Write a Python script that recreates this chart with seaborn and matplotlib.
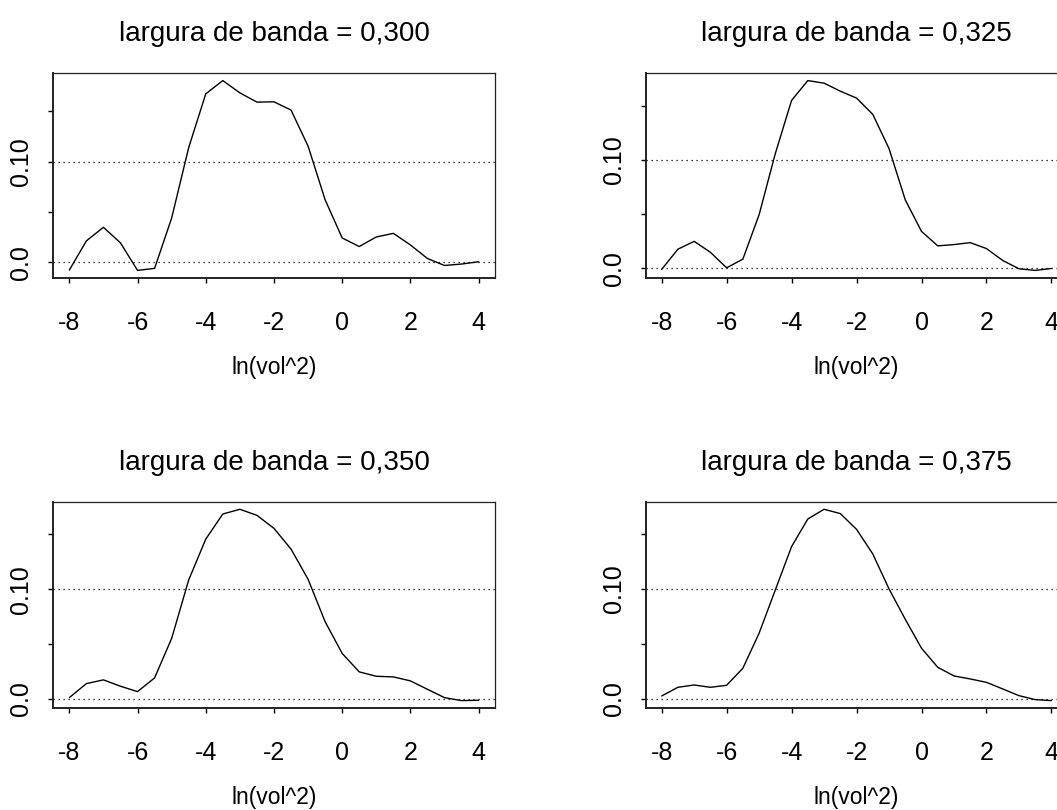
import numpy as np
import pandas as pd
import matplotlib
matplotlib.use("Agg")
import matplotlib.pyplot as plt
import seaborn as sns

# grid of ln(vol^2) values where the density was evaluated
x_grid = [-8.0, -7.5, -7.0, -6.5, -6.0, -5.5, -5.0, -4.5, -4.0, -3.5, -3.0, -2.5,
          -2.0, -1.5, -1.0, -0.5, 0.0, 0.5, 1.0, 1.5, 2.0, 2.5, 3.0, 3.5, 4.0]

# density estimates, one list per bandwidth
dens_300 = [-0.0076, 0.0214, 0.0349, 0.0194, -0.0079, -0.0059, 0.0441, 0.1141,
            0.1674, 0.1806, 0.1684, 0.1592, 0.1595, 0.1513, 0.1155, 0.0622,
            0.0243, 0.0158, 0.0253, 0.0289, 0.0174, 0.0039, -0.0030, -0.0016, 0.0007]
dens_325 = [-0.0012, 0.0175, 0.0248, 0.0147, 0.0003, 0.0083, 0.0494, 0.1061,
            0.1552, 0.1736, 0.1712, 0.1638, 0.1574, 0.1423, 0.1107, 0.0632,
            0.0340, 0.0206, 0.0218, 0.0236, 0.0181, 0.0071, -0.0006, -0.0021, -0.0003]
dens_350 = [0.0012, 0.0140, 0.0174, 0.0116, 0.0067, 0.0192, 0.0552, 0.1085,
            0.1457, 0.1686, 0.1729, 0.1674, 0.1555, 0.1366, 0.1091, 0.0704,
            0.0415, 0.0247, 0.0207, 0.0201, 0.0165, 0.0088, 0.0012, -0.0015, -0.0012]
dens_375 = [0.0024, 0.0103, 0.0124, 0.0103, 0.0121, 0.0276, 0.0594, 0.0988,
            0.1382, 0.1633, 0.1721, 0.1682, 0.1539, 0.1315, 0.0997, 0.0721,
            0.0458, 0.0285, 0.0206, 0.0179, 0.0148, 0.0088, 0.0027, -0.0009, -0.0018]

titles = ["largura de banda = 0,300", "largura de banda = 0,325",
          "largura de banda = 0,350", "largura de banda = 0,375"]
x_ticks = [-8, -6, -4, -2, 0, 2, 4]
y_ticks = [0.0, 0.05, 0.10, 0.15]
y_tick_labels = ["0.0", "", "0.10", ""]
ref_lines = [0.0, 0.10]
x_label = "ln(vol^2)"

sns.set_style("white")
plt.rcParams['font.family'] = ['Liberation Sans', 'DejaVu Sans']
plt.rcParams['text.color'] = 'black'
plt.rcParams['axes.labelcolor'] = 'black'
plt.rcParams['xtick.color'] = 'black'
plt.rcParams['ytick.color'] = 'black'

fig = plt.figure(figsize=(10.57, 8.10), dpi=100)

# axes boxes in figure fractions (right column runs past the edge, as in the original)
positions = [
    [0.0501, 0.6568, 0.4182, 0.2531],
    [0.6112, 0.6568, 0.3983, 0.2531],
    [0.0501, 0.1256, 0.4182, 0.2551],
    [0.6112, 0.1256, 0.3983, 0.2551],
]
series = [dens_300, dens_325, dens_350, dens_375]

for pos, dens, title in zip(positions, series, titles):
    ax = fig.add_axes(pos)
    df = pd.DataFrame({'x': x_grid, 'dens': dens})
    sns.lineplot(data=df, x='x', y='dens', ax=ax, color='black', linewidth=1.0)
    ax.margins(x=0.04, y=0.04)
    for yv in ref_lines:
        ax.axhline(yv, color='black', linestyle=(0, (1, 3)), linewidth=0.9)

    ax.set_xticks(x_ticks)
    ax.set_xticklabels([str(t) for t in x_ticks])
    ax.set_yticks(y_ticks)
    ax.set_yticklabels(y_tick_labels, rotation=90, va='center')

    ax.tick_params(axis='x', direction='out', length=3.6, width=1.0,
                   pad=20, labelsize=18, bottom=True)
    ax.tick_params(axis='y', direction='out', length=3.6, width=1.0,
                   pad=11, labelsize=18, left=True)

    ax.set_xlabel(x_label, fontsize=16.5, labelpad=15)
    ax.set_ylabel("")
    ax.set_title(title, fontsize=20, pad=23)

    for side, sp in ax.spines.items():
        sp.set_color('#222222')
        sp.set_linewidth(1.4 if side in ('left', 'bottom') else 0.9)

fig.savefig("out.png", dpi=100)
